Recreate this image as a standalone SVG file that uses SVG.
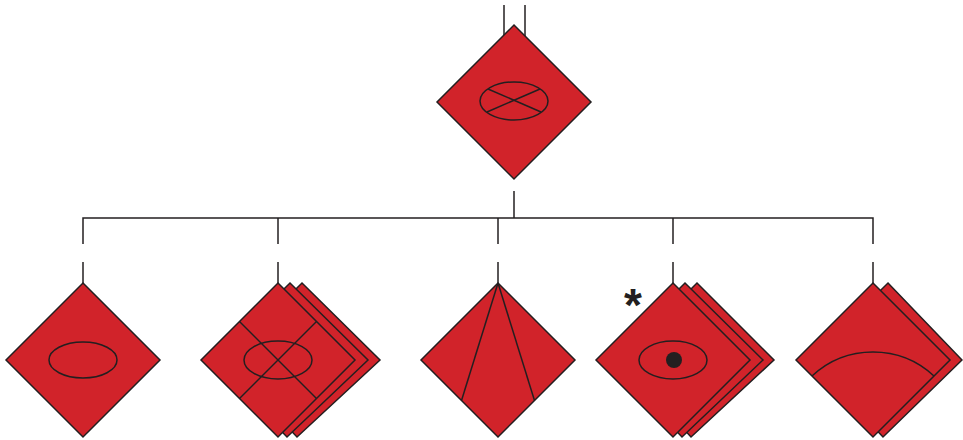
<svg xmlns="http://www.w3.org/2000/svg" width="963" height="440" viewBox="0 0 963 440">
<style>
.d{fill:#d1232a;stroke:#231f20;stroke-width:1.5;stroke-linejoin:miter}
.l{fill:none;stroke:#231f20;stroke-width:1.5}
.c{fill:none;stroke:#231f20;stroke-width:1.5}
</style>
<rect width="963" height="440" fill="#ffffff"/>
<g id="connectors">
<line class="c" x1="504" y1="5" x2="504" y2="36"/>
<line class="c" x1="525" y1="5" x2="525" y2="36"/>
<line class="c" x1="514" y1="191" x2="514" y2="218"/>
<polyline class="c" points="83,244 83,218 873,218 873,244"/>
<line class="c" x1="278" y1="218" x2="278" y2="244"/>
<line class="c" x1="498" y1="218" x2="498" y2="244"/>
<line class="c" x1="673" y1="218" x2="673" y2="244"/>
<line class="c" x1="83" y1="262" x2="83" y2="283"/>
<line class="c" x1="278" y1="262" x2="278" y2="283"/>
<line class="c" x1="498" y1="262" x2="498" y2="283"/>
<line class="c" x1="673" y1="262" x2="673" y2="283"/>
<line class="c" x1="873" y1="262" x2="873" y2="283"/>
</g>
<g id="top">
<polygon class="d" points="514,25 591,102 514,179 437,102"/>
<ellipse class="l" cx="514" cy="101" rx="34" ry="19"/>
<line class="l" x1="488" y1="89" x2="541" y2="112"/>
<line class="l" x1="540" y1="89" x2="487" y2="112"/>
</g>
<g id="n1">
<polygon class="d" points="83,283 160,360 83,437 6,360"/>
<ellipse class="l" cx="83" cy="360" rx="34" ry="18"/>
</g>
<g id="n2">
<polygon class="d" points="302,283 380,360 297,437 224,360"/>
<polygon class="d" points="290,283 368,360 287,437 212,360"/>
<polygon class="d" points="278,283 355,360 278,437 201,360"/>
<line class="l" x1="239.5" y1="321.5" x2="316.5" y2="398.5"/>
<line class="l" x1="316.5" y1="321.5" x2="239.5" y2="398.5"/>
<ellipse class="l" cx="278" cy="360" rx="34" ry="19"/>
</g>
<g id="n3">
<polygon class="d" points="498,283 575,360 498,437 421,360"/>
<line class="l" x1="498" y1="283" x2="461.5" y2="400.5"/>
<line class="l" x1="498" y1="283" x2="534.5" y2="400.5"/>
</g>
<g id="n4">
<polygon class="d" points="697,283 774,360 691,437 620,360"/>
<polygon class="d" points="685,283 763,360 682,437 608,360"/>
<polygon class="d" points="673,283 750,360 673,437 596,360"/>
<ellipse class="l" cx="673" cy="360" rx="34" ry="19"/>
<circle cx="674" cy="360" r="8" fill="#231f20"/>
<text x="633" y="321" font-family="Liberation Sans, Arial, sans-serif" font-weight="bold" font-size="46" text-anchor="middle" fill="#231f20">*</text>
</g>
<g id="n5">
<polygon class="d" points="888,283 962,360 883,437 810,360"/>
<polygon class="d" points="873,283 950,360 873,437 796,360"/>
<path class="l" d="M812,376 A89.5,89.5 0 0 1 934,376"/>
</g>
</svg>
